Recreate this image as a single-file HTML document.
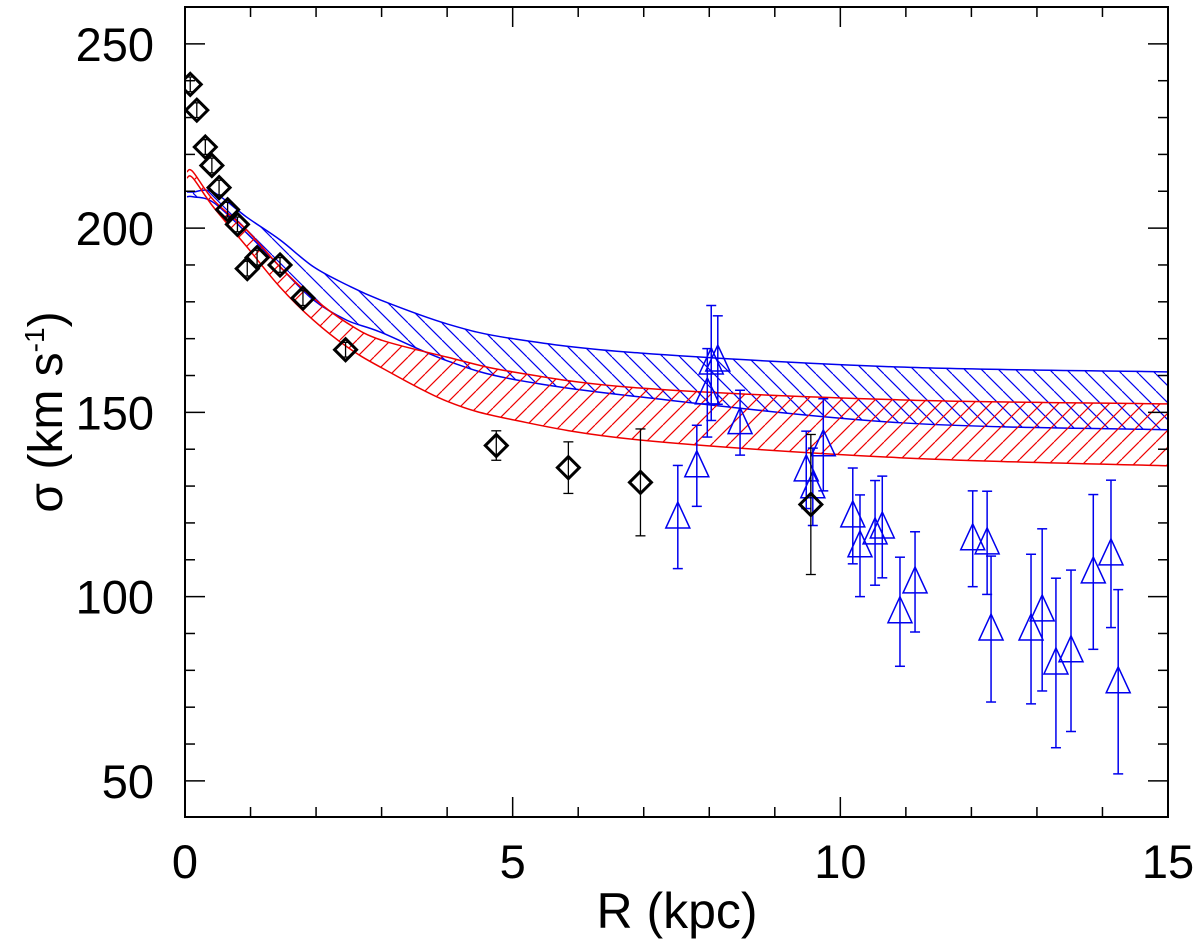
<!DOCTYPE html>
<html><head><meta charset="utf-8"><style>
html,body{margin:0;padding:0;background:#fff;}
svg text{font-family:"Liberation Sans",sans-serif;fill:#000;}
</style></head><body>
<svg id="chart" width="1200" height="942" xmlns="http://www.w3.org/2000/svg">
<defs>
<pattern id="hatchBlue" patternUnits="userSpaceOnUse" width="17" height="17">
<line x1="0" y1="0" x2="17" y2="17" stroke="#0000ee" stroke-width="1.2"/>
<line x1="-17" y1="0" x2="0" y2="17" stroke="#0000ee" stroke-width="1.2"/>
<line x1="17" y1="0" x2="34" y2="17" stroke="#0000ee" stroke-width="1.2"/>
</pattern>
<pattern id="hatchRed" patternUnits="userSpaceOnUse" width="17" height="17">
<line x1="0" y1="17" x2="17" y2="0" stroke="#ee0000" stroke-width="1.2"/>
<line x1="-17" y1="17" x2="0" y2="0" stroke="#ee0000" stroke-width="1.2"/>
<line x1="17" y1="17" x2="34" y2="0" stroke="#ee0000" stroke-width="1.2"/>
</pattern>
<clipPath id="plotClip"><rect x="185" y="7" width="983" height="810"/></clipPath>
</defs>
<g id="bands" clip-path="url(#plotClip)"></g>
<g id="marks" clip-path="url(#plotClip)"></g>
<g id="axes"></g>
<text x="677" y="928" font-size="50" text-anchor="middle">R (kpc)</text>
<text transform="translate(62,412) rotate(-90)" font-size="48" text-anchor="middle">σ (km s<tspan font-size="28" dy="-18">-1</tspan><tspan dy="18">)</tspan></text>
</svg>
<script>
// ---- data ----
const diamondR = [0.08,0.18,0.31,0.41,0.52,0.65,0.8,0.95,1.1,1.45,1.8,2.45,4.75,5.85,6.95,9.55];
const diamondV = [239,232,222,217,211,205,201,189,192,190,181,167,141,135,131,125];
const diamondE = [2,2,2,2,2,2,2,2,2,2,2,2,4,7,14.5,19];
const triR = [7.52,7.81,7.97,8.03,8.13,8.47,9.48,9.58,9.74,10.19,10.30,10.53,10.64,10.91,11.14,12.02,12.24,12.30,12.91,13.08,13.29,13.52,13.86,14.13,14.24];
const triV = [121.6,135.5,155.3,163.4,164.2,147.2,134.4,129.8,141.2,121.9,113.8,117.3,118.9,95.9,104,115.7,114.6,91.2,91.2,96.4,82.0,85.3,106.7,111.6,76.9];
const triE = [14,11,12,15.6,12,8.8,10.5,10.5,12.5,13,13.8,14.2,13.8,14.8,13.6,13,14,19.8,20.3,22,23,21.9,21,20,25];
const bandR = [0.03,0.12,0.43,0.94,1.45,1.96,2.47,2.98,4,5,6.94,10.9,15];
const blueUpper = [209.8,209.8,209.8,203,196.8,189.5,184.6,180.5,174,170,166.1,162.3,161];
const blueLower = [208.5,208.5,207,198.7,189.5,180.5,175,171.8,164,159,154.2,147.2,145.3];
const redUpper = [215.3,215.3,207.7,199.5,189.5,181,174.3,169.7,165,161,156.6,153.4,152.3];
const redLower = [213.6,213.6,205.8,195,184,175,167.8,162.3,153,148,142.5,137.7,135.5];
const xTicks = [0,5,10,15];
const yTicks = [50,100,150,200,250];

// ---- scales ----
const X0=185,X1=1168,Y0=817,Y1=7,xmin=0,xmax=15,ymin=40.2,ymax=260;
const sx=v=>X0+(v-xmin)/(xmax-xmin)*(X1-X0);
const sy=v=>Y0-(v-ymin)/(ymax-ymin)*(Y0-Y1);
const NS="http://www.w3.org/2000/svg";
function mk(tag,attrs,parent){const e=document.createElementNS(NS,tag);for(const k in attrs)e.setAttribute(k,attrs[k]);parent.appendChild(e);return e;}
function smooth(pts,start){
  let d=start?'M'+pts[0][0]+','+pts[0][1]:'L'+pts[0][0]+','+pts[0][1];
  for(let i=0;i<pts.length-1;i++){
    const p0=pts[Math.max(0,i-1)],p1=pts[i],p2=pts[i+1],p3=pts[Math.min(pts.length-1,i+2)];
    const c1=[p1[0]+(p2[0]-p0[0])/6,p1[1]+(p2[1]-p0[1])/6];
    const c2=[p2[0]-(p3[0]-p1[0])/6,p2[1]-(p3[1]-p1[1])/6];
    d+=` C${c1[0]},${c1[1]} ${c2[0]},${c2[1]} ${p2[0]},${p2[1]}`;
  }
  return d;
}

const bands=document.getElementById('bands');
function band(up,lo,fill,stroke,name){
  const pu=bandR.map((v,i)=>[sx(v),sy(up[i])]).slice(1);
  const pl=bandR.map((v,i)=>[sx(v),sy(lo[i])]).slice(1).reverse();
  const p=mk('path',{d:smooth(pu,true)+' '+smooth(pl,false)+' Z',fill:fill,stroke:'none'},bands);
  
  
  [up,lo].forEach((arr,j)=>{
    const l=mk('path',{d:smooth(bandR.map((v,i)=>[sx(v),sy(arr[i])]),true),fill:'none',stroke:stroke,'stroke-width':1.5},bands);
    
    
  });
}
band(blueUpper,blueLower,'url(#hatchBlue)','#0000ee','blue-model-band');
band(redUpper,redLower,'url(#hatchRed)','#ee0000','red-model-band');

const marks=document.getElementById('marks');
function errbar(x,v,e,color,w){
  const g=mk('g',{stroke:color,'stroke-width':w},marks);
  
  
  mk('line',{x1:x,x2:x,y1:sy(v+e),y2:sy(v-e)},g);
  mk('line',{x1:x-5,x2:x+5,y1:sy(v+e),y2:sy(v+e)},g);
  mk('line',{x1:x-5,x2:x+5,y1:sy(v-e),y2:sy(v-e)},g);
}
triR.forEach((r,i)=>{
  const x=sx(r),y=sy(triV[i]);
  errbar(x,triV[i],triE[i],'#0000ee',1.5);
  const t=mk('polygon',{points:`${x},${y-15} ${x-12},${y+11} ${x+12},${y+11}`,fill:'none',stroke:'#0000ee','stroke-width':1.5},marks);
  
  
});
diamondR.forEach((r,i)=>{
  const x=sx(r),y=sy(diamondV[i]);
  errbar(x,diamondV[i],diamondE[i],'#000',1.3);
  const d=mk('polygon',{points:`${x},${y-11} ${x+11},${y} ${x},${y+11} ${x-11},${y}`,fill:'none',stroke:'#000','stroke-width':3},marks);
  
  
});

// ---- axes ----
const ax=document.getElementById('axes');
const fr=mk('rect',{x:X0,y:Y1,width:X1-X0,height:Y0-Y1,fill:'none',stroke:'#000','stroke-width':2},ax);


for(let v=0;v<=15;v++){
  const x=sx(v),L=(v%5===0)?20:10;
  mk('line',{x1:x,x2:x,y1:Y0,y2:Y0-L,stroke:'#000','stroke-width':1.5},ax);
  mk('line',{x1:x,x2:x,y1:Y1,y2:Y1+L,stroke:'#000','stroke-width':1.5},ax);
}
for(let v=50;v<=260;v+=10){
  const y=sy(v),L=(v%50===0)?20:10;
  mk('line',{x1:X0,x2:X0+L,y1:y,y2:y,stroke:'#000','stroke-width':1.5},ax);
  mk('line',{x1:X1,x2:X1-L,y1:y,y2:y,stroke:'#000','stroke-width':1.5},ax);
}
xTicks.forEach(v=>{
  const t=mk('text',{x:sx(v),y:878,'font-size':47,'text-anchor':'middle'},ax);
  t.textContent=v;
  
  
});
yTicks.forEach(v=>{
  const t=mk('text',{x:154,y:sy(v)+17,'font-size':47,'text-anchor':'end'},ax);
  t.textContent=v;
  
  
});
</script>
</body></html>
